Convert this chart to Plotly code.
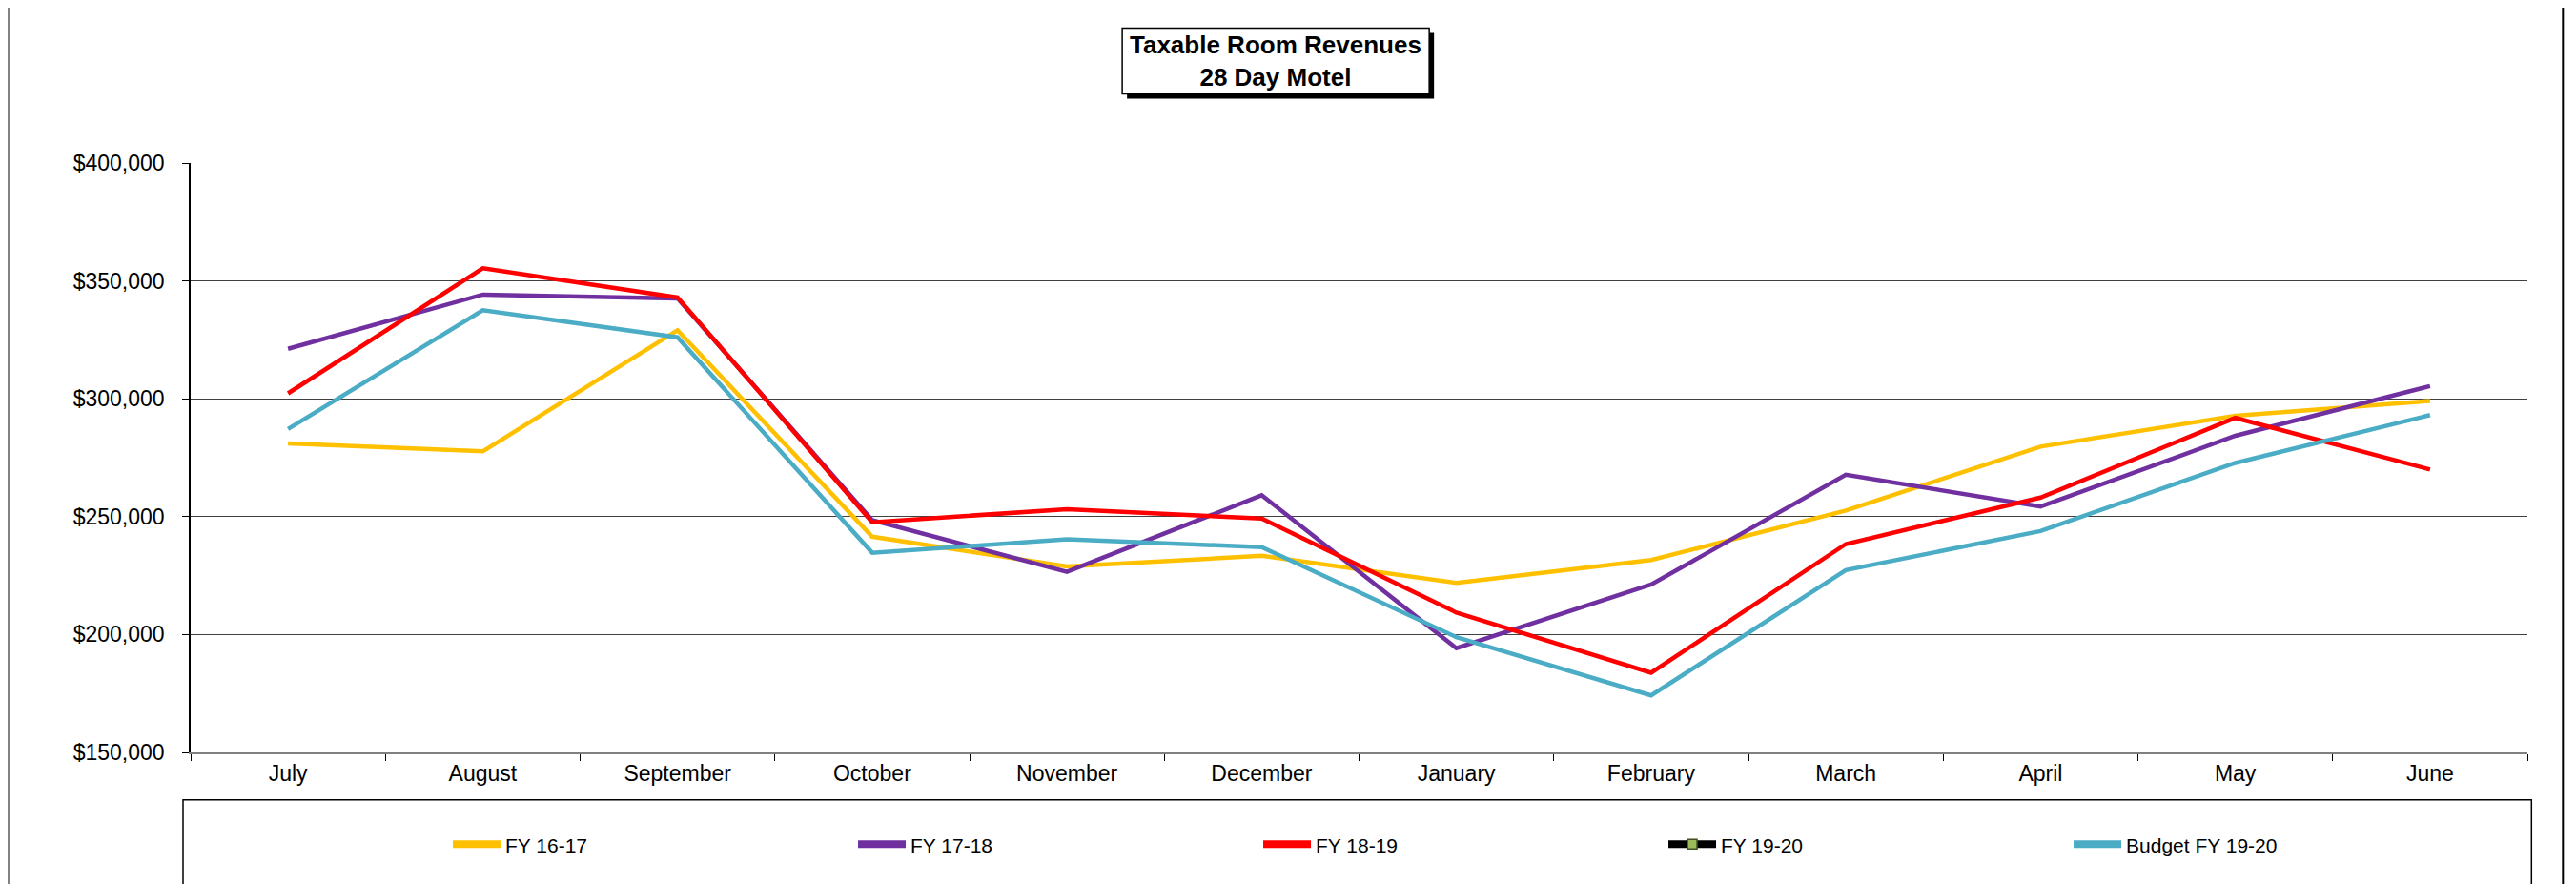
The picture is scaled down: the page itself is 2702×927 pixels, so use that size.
import plotly.graph_objects as go

months = ["July", "August", "September", "October", "November", "December",
          "January", "February", "March", "April", "May", "June"]

fy_16_17 = [281100, 277700, 329100, 241500, 228900, 233400, 221900, 231600, 252600, 279700, 292800, 299100]
fy_17_18 = [321200, 344200, 342600, 248500, 226600, 259100, 194200, 221200, 267800, 254300, 284300, 305400]
fy_18_19 = [302300, 355400, 343000, 247600, 253200, 249200, 209300, 183800, 238400, 258100, 291900, 270000]
fy_19_20 = [None] * 12
budget_19_20 = [287200, 337600, 326100, 234700, 240400, 237100, 198900, 174200, 227300, 243900, 272800, 293100]

y_ticks = [150000, 200000, 250000, 300000, 350000, 400000]

W, H = 2702, 927
OFF = 8  # default page body margin in the browser
# target page-pixel positions of the plot area
L, R = 200 - OFF, 2650.7 - OFF
T, B = 170.6 - OFF, 789.2 - OFF


def px(x):
    return (x - OFF - L) / (R - L)


def py(y):
    return (B - (y - OFF)) / (B - T)


FONT = "Arial, Liberation Sans, sans-serif"

series = [
    ("FY 16-17", fy_16_17, "#FFC000"),
    ("FY 17-18", fy_17_18, "#7030A0"),
    ("FY 18-19", fy_18_19, "#FF0000"),
    ("Budget FY 19-20", budget_19_20, "#4BACC6"),
]

fig = go.Figure()
for name, vals, col in series:
    fig.add_trace(go.Scatter(x=months, y=vals, mode="lines", name=name,
                             line=dict(color=col, width=4.5), showlegend=False))

legend_items = [
    ("FY 16-17", "#FFC000"),
    ("FY 17-18", "#7030A0"),
    ("FY 18-19", "#FF0000"),
    ("FY 19-20", "#000000"),
    ("Budget FY 19-20", "#4BACC6"),
]
for name, col in legend_items:
    if name == "FY 19-20":
        fig.add_trace(go.Scatter(x=months, y=fy_19_20, mode="lines+markers", name=name,
                                 line=dict(color="#000000", width=8),
                                 marker=dict(symbol="square", size=10, color="#9BBB59",
                                             line=dict(color="#3F4F1F", width=1.5))))
    else:
        fig.add_trace(go.Scatter(x=[None], y=[None], mode="lines", name=name,
                                 line=dict(color=col, width=8)))

shapes = []
# outer chart border
shapes.append(dict(type="line", xref="paper", yref="paper", x0=px(9), x1=px(9), y0=py(3), y1=py(960),
                   line=dict(color="#808080", width=2)))
shapes.append(dict(type="line", xref="paper", yref="paper", x0=px(9), x1=px(2688), y0=py(3), y1=py(3),
                   line=dict(color="#000000", width=2)))
shapes.append(dict(type="line", xref="paper", yref="paper", x0=px(2688), x1=px(2688), y0=py(3), y1=py(960),
                   line=dict(color="#000000", width=2)))
# legend box
shapes.append(dict(type="rect", xref="paper", yref="paper", x0=px(192), x1=px(2655), y0=py(839), y1=py(980),
                   line=dict(color="#000000", width=1.5), fillcolor="rgba(0,0,0,0)"))
# title shadow + box
shapes.append(dict(type="rect", xref="paper", yref="paper", x0=px(1182), x1=px(1504), y0=py(34), y1=py(103),
                   line=dict(color="#000000", width=0), fillcolor="#000000"))
shapes.append(dict(type="rect", xref="paper", yref="paper", x0=px(1177), x1=px(1499), y0=py(29), y1=py(98),
                   line=dict(color="#000000", width=1.5), fillcolor="#FFFFFF"))

fig.update_layout(
    width=W, height=H, autosize=False,
    margin=dict(l=L, r=W - R, t=T, b=H - B, pad=0),
    paper_bgcolor="white", plot_bgcolor="white",
    font=dict(family=FONT, color="#000000", size=20),
    shapes=shapes,
    annotations=[dict(text="<b>Taxable Room Revenues<br>28 Day Motel</b>", xref="paper", yref="paper",
                      x=px(1338), y=py(63.5), xanchor="center", yanchor="middle", showarrow=False,
                      font=dict(family=FONT, size=26, color="#000000"))],
    showlegend=True,
    legend=dict(orientation="h", x=px(470), y=py(886), xanchor="left", yanchor="middle",
                font=dict(family=FONT, size=21, color="#000000"),
                entrywidth=360, entrywidthmode="pixels", itemwidth=50,
                bgcolor="rgba(0,0,0,0)", borderwidth=0, traceorder="normal"),
    xaxis=dict(type="category", categoryorder="array", categoryarray=months, range=[-0.5, 11.5],
               showgrid=False, zeroline=False, showline=True, linecolor="#808080", linewidth=2,
               ticks="outside", ticklen=7, tickcolor="#000000", tickson="boundaries",
               tickfont=dict(family=FONT, size=23, color="#000000")),
    yaxis=dict(range=[150000, 400000], tickvals=y_ticks, tickformat="$,.0f",
               showgrid=True, gridcolor="#404040", gridwidth=1, zeroline=False,
               showline=True, linecolor="#000000", linewidth=1.5,
               ticks="outside", ticklen=7, tickcolor="#000000", ticklabelstandoff=14,
               tickfont=dict(family=FONT, size=23, color="#000000")),
)

fig.write_html("out.html")
